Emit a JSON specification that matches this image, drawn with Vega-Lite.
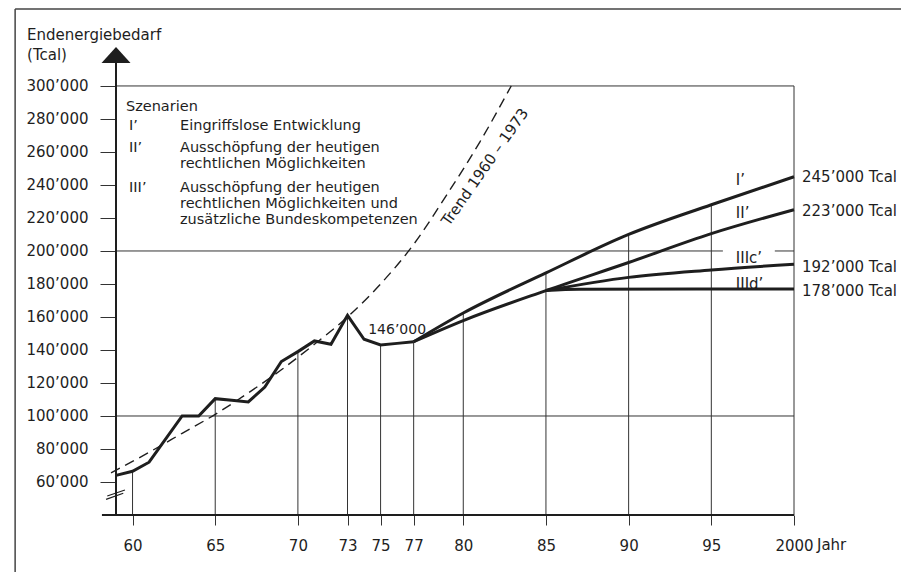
{
  "$schema": "https://vega.github.io/schema/vega-lite/v6.json",
  "width": 678,
  "height": 467,
  "autosize": {"type": "none"},
  "padding": {"left": 116, "top": 48, "right": 107, "bottom": 57},
  "background": "white",
  "config": {"view": {"stroke": null}, "font": "DejaVu Sans"},
  "datasets": {
    "frame": [
      {"x": 1952.9, "y": 0, "x2": 1952.9, "y2": 346700},
      {"x": 1952.9, "y": 346700, "x2": 2007, "y2": 346700}
    ],
    "grid": [
      {"x": 1959, "y": 100000, "x2": 2000, "y2": 100000},
      {"x": 1959, "y": 200000, "x2": 1995.7, "y2": 200000},
      {"x": 1998.84, "y": 200000, "x2": 2000, "y2": 200000},
      {"x": 1959, "y": 300000, "x2": 2000, "y2": 300000},
      {"x": 1960, "y": 40000, "x2": 1960, "y2": 66500},
      {"x": 1965, "y": 40000, "x2": 1965, "y2": 110500},
      {"x": 1970, "y": 40000, "x2": 1970, "y2": 139000},
      {"x": 1973, "y": 40000, "x2": 1973, "y2": 161000},
      {"x": 1975, "y": 40000, "x2": 1975, "y2": 143000},
      {"x": 1977, "y": 40000, "x2": 1977, "y2": 145000},
      {"x": 1980, "y": 40000, "x2": 1980, "y2": 162400},
      {"x": 1985, "y": 40000, "x2": 1985, "y2": 186700},
      {"x": 1990, "y": 40000, "x2": 1990, "y2": 210000},
      {"x": 1995, "y": 40000, "x2": 1995, "y2": 228000},
      {"x": 2000, "y": 40000, "x2": 2000, "y2": 300000}
    ],
    "axes": [
      {"x": 1958.15, "y": 40000, "x2": 2000, "y2": 40000},
      {"x": 1959, "y": 40000, "x2": 1959, "y2": 314000}
    ],
    "breaks": [
      {"x": 1958.4, "y": 49500, "x2": 1959.44, "y2": 53150},
      {"x": 1958.47, "y": 51500, "x2": 1959.54, "y2": 55150}
    ],
    "trend": [
      {"x": 1958.7, "y": 65500},
      {"x": 1961, "y": 78000},
      {"x": 1963, "y": 89500},
      {"x": 1965, "y": 101000},
      {"x": 1967, "y": 114000},
      {"x": 1969, "y": 128000},
      {"x": 1971, "y": 143500},
      {"x": 1973, "y": 160000},
      {"x": 1975, "y": 180000},
      {"x": 1977, "y": 204000},
      {"x": 1979, "y": 234000},
      {"x": 1981, "y": 266000},
      {"x": 1982.9, "y": 300000}
    ],
    "hist": [
      {"x": 1959, "y": 64000},
      {"x": 1960, "y": 66500},
      {"x": 1961, "y": 72000},
      {"x": 1963, "y": 100000},
      {"x": 1964, "y": 100000},
      {"x": 1965, "y": 110500},
      {"x": 1966, "y": 109500},
      {"x": 1967, "y": 108500},
      {"x": 1968, "y": 117500},
      {"x": 1969, "y": 133000},
      {"x": 1970, "y": 139000},
      {"x": 1971, "y": 145500},
      {"x": 1972, "y": 143500},
      {"x": 1973, "y": 161000},
      {"x": 1974, "y": 146500},
      {"x": 1975, "y": 143000},
      {"x": 1976, "y": 144000},
      {"x": 1977, "y": 145000}
    ],
    "proj": [
      {"s": "I", "x": 1977, "y": 145000},
      {"s": "I", "x": 1980, "y": 162400},
      {"s": "I", "x": 1985, "y": 186700},
      {"s": "I", "x": 1990, "y": 210000},
      {"s": "I", "x": 1995, "y": 228000},
      {"s": "I", "x": 2000, "y": 245000},
      {"s": "II", "x": 1977, "y": 145000},
      {"s": "II", "x": 1980, "y": 157800},
      {"s": "II", "x": 1985, "y": 176000},
      {"s": "II", "x": 1990, "y": 193000},
      {"s": "II", "x": 1995, "y": 210500},
      {"s": "II", "x": 2000, "y": 225000},
      {"s": "IIIc", "x": 1985, "y": 176000},
      {"s": "IIIc", "x": 1990, "y": 184000},
      {"s": "IIIc", "x": 1995, "y": 188500},
      {"s": "IIIc", "x": 2000, "y": 192000},
      {"s": "IIId", "x": 1985, "y": 176000},
      {"s": "IIId", "x": 1987, "y": 176800},
      {"s": "IIId", "x": 2000, "y": 177000}
    ],
    "arrow": [{"x": 1959, "y": 318800}],
    "leftTexts": [
      {"x": 1953.62, "y": 330900, "t": "Endenergiebedarf"},
      {"x": 1953.62, "y": 318800, "t": "(Tcal)"},
      {"x": 1996.48, "y": 243000, "t": "I’"},
      {"x": 1996.48, "y": 223000, "t": "II’"},
      {"x": 1996.48, "y": 195800, "t": "IIIc’"},
      {"x": 1996.48, "y": 180000, "t": "IIId’"}
    ],
    "legendTexts": [
      {"x": 1959.6, "y": 287300, "t": "Szenarien"},
      {"x": 1959.79, "y": 275800, "t": "I’"},
      {"x": 1962.87, "y": 275800, "t": "Eingriffslose Entwicklung"},
      {"x": 1959.79, "y": 262400, "t": "II’"},
      {"x": 1962.87, "y": 262400, "t": "Ausschöpfung der heutigen"},
      {"x": 1962.87, "y": 252700, "t": "rechtlichen Möglichkeiten"},
      {"x": 1959.79, "y": 238200, "t": "III’"},
      {"x": 1962.87, "y": 238200, "t": "Ausschöpfung der heutigen"},
      {"x": 1962.87, "y": 228500, "t": "rechtlichen Möglichkeiten und"},
      {"x": 1962.87, "y": 218800, "t": "zusätzliche Bundeskompetenzen"}
    ],
    "rightTexts": [
      {"x": 2000, "y": 245000, "t": "245’000 Tcal"},
      {"x": 2000, "y": 224200, "t": "223’000 Tcal"},
      {"x": 2000, "y": 190300, "t": "192’000 Tcal"},
      {"x": 2000, "y": 175800, "t": "178’000 Tcal"}
    ],
    "value146": [{"x": 1976.0, "y": 152100, "t": "146’000"}],
    "trendLabel": [{"x": 1981.31, "y": 250900, "t": "Trend 1960 – 1973"}],
    "jahr": [{"x": 2000, "y": 40000, "t": "Jahr"}]
  },
  "encoding": {
    "x": {
      "field": "x",
      "type": "quantitative",
      "scale": {"domain": [1959, 2000], "nice": false, "zero": false},
      "axis": {
        "values": [1960, 1965, 1970, 1973, 1975, 1977, 1980, 1985, 1990, 1995, 2000],
        "labelExpr": "datum.value == 2000 ? '2000' : format(datum.value - 1900, 'd')",
        "domain": false,
        "grid": false,
        "title": null,
        "tickSize": 10,
        "tickColor": "#333333",
        "tickWidth": 1,
        "labelFont": "DejaVu Sans",
        "labelFontSize": 15,
        "labelColor": "#1e1e1e",
        "labelPadding": 13,
        "labelOverlap": false,
        "labelFlush": false
      }
    },
    "y": {
      "field": "y",
      "type": "quantitative",
      "scale": {"domain": [40000, 323000], "nice": false, "zero": false},
      "axis": {
        "values": [60000, 80000, 100000, 120000, 140000, 160000, 180000, 200000, 220000, 240000, 260000, 280000, 300000],
        "labelExpr": "replace(format(datum.value, ','), ',', '’')",
        "domain": false,
        "grid": false,
        "title": null,
        "tickSize": 16,
        "tickColor": "#333333",
        "tickWidth": 1,
        "labelFont": "DejaVu Sans",
        "labelFontSize": 15,
        "labelColor": "#1e1e1e",
        "labelPadding": 12,
        "labelOverlap": false,
        "labelFlush": false
      }
    }
  },
  "layer": [
    {
      "data": {"name": "frame"},
      "mark": {"type": "rule", "color": "#444444", "strokeWidth": 1.5},
      "encoding": {"x2": {"field": "x2"}, "y2": {"field": "y2"}}
    },
    {
      "data": {"name": "grid"},
      "mark": {"type": "rule", "color": "#333333", "strokeWidth": 1},
      "encoding": {"x2": {"field": "x2"}, "y2": {"field": "y2"}}
    },
    {
      "data": {"name": "axes"},
      "mark": {"type": "rule", "color": "#1e1e1e", "strokeWidth": 2},
      "encoding": {"x2": {"field": "x2"}, "y2": {"field": "y2"}}
    },
    {
      "data": {"name": "breaks"},
      "mark": {"type": "rule", "color": "#1e1e1e", "strokeWidth": 1.2},
      "encoding": {"x2": {"field": "x2"}, "y2": {"field": "y2"}}
    },
    {
      "data": {"name": "trend"},
      "mark": {"type": "line", "color": "#1e1e1e", "strokeWidth": 1.4, "strokeDash": [10, 6], "interpolate": "monotone"},
      "encoding": {}
    },
    {
      "data": {"name": "hist"},
      "mark": {"type": "line", "color": "#1e1e1e", "strokeWidth": 3, "strokeJoin": "miter"},
      "encoding": {}
    },
    {
      "data": {"name": "proj"},
      "mark": {"type": "line", "color": "#1e1e1e", "strokeWidth": 3, "interpolate": "monotone"},
      "encoding": {"detail": {"field": "s"}}
    },
    {
      "data": {"name": "arrow"},
      "mark": {"type": "point", "shape": "M0,-0.55L1,0.55L-1,0.55Z", "size": 841, "filled": true, "color": "#1e1e1e", "opacity": 1},
      "encoding": {}
    },
    {
      "data": {"name": "leftTexts"},
      "mark": {"type": "text", "align": "left", "baseline": "middle", "font": "DejaVu Sans", "fontSize": 15, "color": "#1e1e1e"},
      "encoding": {"text": {"field": "t"}}
    },
    {
      "data": {"name": "legendTexts"},
      "mark": {"type": "text", "align": "left", "baseline": "middle", "font": "DejaVu Sans", "fontSize": 14.5, "color": "#1e1e1e"},
      "encoding": {"text": {"field": "t"}}
    },
    {
      "data": {"name": "rightTexts"},
      "mark": {"type": "text", "align": "left", "baseline": "middle", "dx": 8, "font": "DejaVu Sans", "fontSize": 15, "color": "#1e1e1e"},
      "encoding": {"text": {"field": "t"}}
    },
    {
      "data": {"name": "value146"},
      "mark": {"type": "text", "align": "center", "baseline": "middle", "font": "DejaVu Sans", "fontSize": 14, "color": "#1e1e1e"},
      "encoding": {"text": {"field": "t"}}
    },
    {
      "data": {"name": "trendLabel"},
      "mark": {"type": "text", "align": "center", "baseline": "middle", "angle": -55, "font": "DejaVu Sans", "fontSize": 15, "color": "#1e1e1e"},
      "encoding": {"text": {"field": "t"}}
    },
    {
      "data": {"name": "jahr"},
      "mark": {"type": "text", "align": "left", "baseline": "top", "dx": 23, "dy": 23, "font": "DejaVu Sans", "fontSize": 15, "color": "#1e1e1e"},
      "encoding": {"text": {"field": "t"}}
    }
  ]
}
